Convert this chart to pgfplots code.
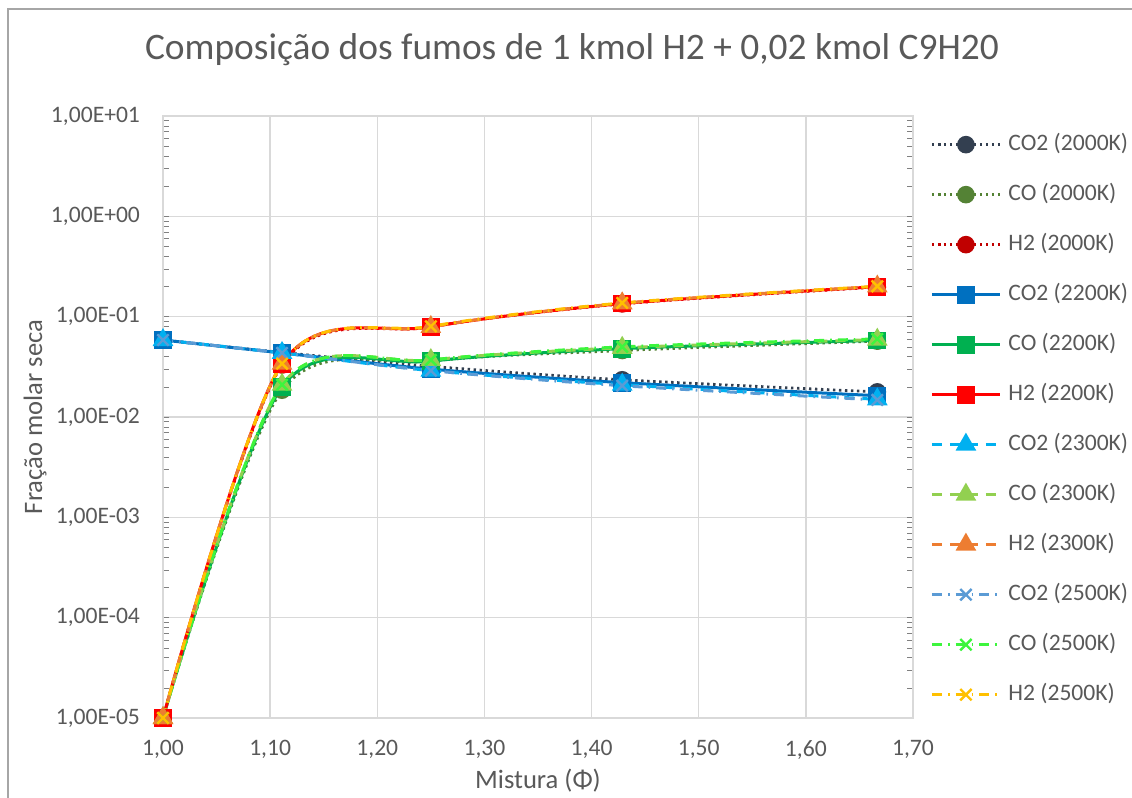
\documentclass[border=0pt]{standalone}
\usepackage{fontspec}
\setmainfont{Carlito}
\usepackage{pgfplots}
\pgfplotsset{compat=1.18}

\definecolor{txt}{HTML}{595959}
\definecolor{gridc}{HTML}{D9D9D9}
\definecolor{cotwoA}{HTML}{333F50}
\definecolor{coA}{HTML}{548235}
\definecolor{hA}{HTML}{C00000}
\definecolor{cotwoB}{HTML}{0070C0}
\definecolor{coB}{HTML}{00B050}
\definecolor{hB}{HTML}{FF0000}
\definecolor{cotwoC}{HTML}{00B0F0}
\definecolor{coC}{HTML}{92D050}
\definecolor{hC}{HTML}{ED7D31}
\definecolor{cotwoD}{HTML}{5B9BD5}
\definecolor{coD}{HTML}{3DF53D}
\definecolor{hD}{HTML}{FFC000}

\pgfplotsset{
  k2000/.style={line width=1.4pt, dash pattern=on 1.2pt off 1.8pt, mark=*, mark size=3.7pt, mark options={solid}},
  k2200/.style={line width=1.5pt, solid, mark=square*, mark size=3.7pt, mark options={solid}},
  k2300/.style={line width=1.5pt, dash pattern=on 5pt off 4pt, mark=triangle*, mark size=4.5pt, mark options={solid}},
  k2500/.style={line width=1.5pt, dash pattern=on 5pt off 3pt on 0.8pt off 3pt, mark=x, mark size=4pt, mark options={solid, line width=1.2pt}},
}

\begin{document}
\begin{tikzpicture}
\useasboundingbox (0,0) rectangle (566pt,399pt);
\draw[color=gray!70, line width=0.8pt] (4pt,-2pt) -- (4pt,394.5pt) -- (570pt,394.5pt);

\node[font=\fontsize{18.7}{22}\selectfont, text=txt] at (286pt,374pt) {Composição dos fumos de 1 kmol H2 + 0,02 kmol C9H20};
\node[font=\fontsize{13.3}{16}\selectfont, text=txt, rotate=90] at (17.5pt,190.5pt) {Fração molar seca};
\node[font=\fontsize{13.3}{16}\selectfont, text=txt] at (269pt,8.5pt) {Mistura (Φ)};

\begin{axis}[
  at={(81.5pt,40pt)}, anchor=south west,
  scale only axis, width=375pt, height=301pt,
  ymode=log,
  xmin=1, xmax=1.7, ymin=1e-5, ymax=10,
  xtick={1,1.1,1.2,1.3,1.4,1.5,1.6,1.7},
  xticklabels={{1,00},{1,10},{1,20},{1,30},{1,40},{1,50},{1,60},{1,70}},
  ytick={1e-5,1e-4,1e-3,1e-2,1e-1,1,10},
  yticklabels={{1,00E-05},{1,00E-04},{1,00E-03},{1,00E-02},{1,00E-01},{1,00E+00},{1,00E+01}},
  major tick length=0pt,
  xticklabel style={font=\fontsize{11.8}{14}\selectfont, text=txt, yshift=-7.5pt},
  yticklabel style={font=\fontsize{11.8}{14}\selectfont, text=txt, xshift=-8pt},
  grid=major,
  major grid style={draw=gridc, line width=0.75pt},
  axis line style={draw=gridc, line width=0.75pt},
  legend style={at={(1.0227,0.973)}, anchor=north west, draw=none, fill=none,
    font=\fontsize{11.8}{14}\selectfont, text=txt,
    row sep=13pt, inner sep=0pt,
    nodes={inner sep=0pt, text height=9pt, text depth=3pt},
    /tikz/every odd column/.append style={column sep=3.5pt}},
  legend cell align=left,
  legend image code/.code={\draw[mark repeat=2, mark phase=2, #1] plot coordinates {(0pt,0pt) (17pt,0pt) (34pt,0pt)};},
]
% 2000 K
\addplot[k2000, smooth, color=cotwoA] coordinates {(1,0.0585) (1.1111,0.0440) (1.25,0.0320) (1.4286,0.0235) (1.6667,0.0178)};
\addplot[k2000, smooth, color=coA] coordinates {(1,1e-5) (1.1111,0.0185) (1.25,0.0360) (1.4286,0.0460) (1.6667,0.0570)};
\addplot[k2000, smooth, color=hA] coordinates {(1,1e-5) (1.1111,0.0330) (1.25,0.0790) (1.4286,0.1340) (1.6667,0.1970)};
% 2200 K
\addplot[k2200, smooth, color=cotwoB] coordinates {(1,0.0585) (1.1111,0.0435) (1.25,0.0300) (1.4286,0.0220) (1.6667,0.0163)};
\addplot[k2200, smooth, color=coB] coordinates {(1,1e-5) (1.1111,0.0200) (1.25,0.0360) (1.4286,0.0480) (1.6667,0.0580)};
\addplot[k2200, smooth, color=hB] coordinates {(1,1e-5) (1.1111,0.0340) (1.25,0.0790) (1.4286,0.1350) (1.6667,0.1990)};
% 2300 K
\addplot[k2300, smooth, color=cotwoC] coordinates {(1,0.0585) (1.1111,0.0435) (1.25,0.0290) (1.4286,0.0210) (1.6667,0.0150)};
\addplot[k2300, smooth, color=coC] coordinates {(1,1e-5) (1.1111,0.0210) (1.25,0.0370) (1.4286,0.0490) (1.6667,0.0590)};
\addplot[k2300, smooth, color=hC] coordinates {(1,1e-5) (1.1111,0.0340) (1.25,0.0790) (1.4286,0.1360) (1.6667,0.2000)};
% 2500 K
\addplot[k2500, smooth, color=cotwoD] coordinates {(1,0.0585) (1.1111,0.0435) (1.25,0.0290) (1.4286,0.0205) (1.6667,0.0148)};
\addplot[k2500, smooth, color=coD] coordinates {(1,1e-5) (1.1111,0.0210) (1.25,0.0370) (1.4286,0.0500) (1.6667,0.0600)};
\addplot[k2500, smooth, color=hD] coordinates {(1,1e-5) (1.1111,0.0340) (1.25,0.0800) (1.4286,0.1370) (1.6667,0.2010)};
\legend{CO2 (2000K), CO (2000K), H2 (2000K), CO2 (2200K), CO (2200K), H2 (2200K), CO2 (2300K), CO (2300K), H2 (2300K), CO2 (2500K), CO (2500K), H2 (2500K)}
\end{axis}
\end{tikzpicture}
\end{document}
